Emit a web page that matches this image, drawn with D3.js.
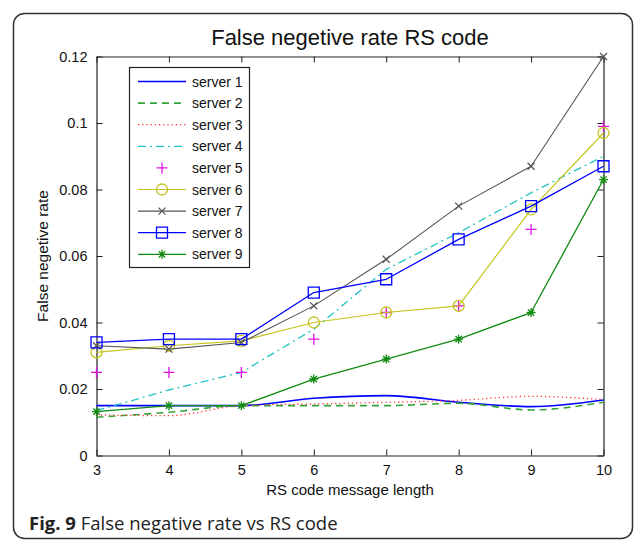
<!DOCTYPE html>
<html>
<head>
<meta charset="utf-8">
<script src="https://cdn.jsdelivr.net/npm/d3@7"></script>
<style>
  html, body { margin: 0; padding: 0; background: #ffffff; }
  svg { display: block; }
</style>
</head>
<body>
<svg id="chart" width="634" height="540"></svg>
<script>
// ---- data ----
const categories = [3, 4, 5, 6, 7, 8, 9, 10];
const seriesNames = ["server 1", "server 2", "server 3", "server 4", "server 5",
                     "server 6", "server 7", "server 8", "server 9"];
const server1 = [0.015, 0.015, 0.015, 0.0172, 0.018, 0.016, 0.0147, 0.0167];
const server2 = [0.0115, 0.013, 0.015, 0.015, 0.015, 0.0157, 0.0137, 0.016];
const server3 = [0.0122, 0.012, 0.015, 0.0155, 0.016, 0.0166, 0.0178, 0.0168];
const server4 = [0.0135, 0.0197, 0.025, 0.038, 0.056, 0.067, 0.079, 0.09];
const server5 = [0.025, 0.025, 0.025, 0.035, 0.043, 0.045, 0.068, 0.099];
const server6 = [0.031, 0.033, 0.0345, 0.040, 0.043, 0.045, 0.074, 0.097];
const server7 = [0.033, 0.032, 0.034, 0.045, 0.059, 0.075, 0.087, 0.12];
const server8 = [0.034, 0.035, 0.035, 0.049, 0.053, 0.065, 0.075, 0.087];
const server9 = [0.0132, 0.015, 0.015, 0.023, 0.029, 0.035, 0.043, 0.083];
const yTicks = [0, 0.02, 0.04, 0.06, 0.08, 0.1, 0.12];
const yTickLabels = ["0", "0.02", "0.04", "0.06", "0.08", "0.1", "0.12"];
const xTicks = [3, 4, 5, 6, 7, 8, 9, 10];
const xTickLabels = ["3", "4", "5", "6", "7", "8", "9", "10"];

const titleText = "False negetive rate RS code";
const xLabelText = "RS code message length";
const yLabelText = "False negetive rate";

// ---- styles ----
const styles = [
  { color: "#0000ff", dash: null,      width: 1.6, line: true,  smooth: true,  marker: null },
  { color: "#36a336", dash: "7,5",     width: 1.6, line: true,  smooth: true,  marker: null },
  { color: "#ff3030", dash: "1.2,3",   width: 1.3, line: true,  smooth: true,  marker: null },
  { color: "#20c4c4", dash: "8,4,2,4", width: 1.3, line: true,  smooth: false, marker: null },
  { color: "#e010e0", dash: null,      width: 1.2, line: false, smooth: false, marker: "plus" },
  { color: "#c4c41c", dash: null,      width: 1.2, line: true,  smooth: false, marker: "circle" },
  { color: "#555555", dash: null,      width: 1.1, line: true,  smooth: false, marker: "cross" },
  { color: "#0000ff", dash: null,      width: 1.3, line: true,  smooth: false, marker: "square" },
  { color: "#108a10", dash: null,      width: 1.3, line: true,  smooth: false, marker: "star" }
];
const allSeries = [server1, server2, server3, server4, server5, server6, server7, server8, server9];

const svg = d3.select("#chart");
const font = "'Liberation Sans', Arial, sans-serif";

// frame
svg.append("rect")
  .attr("x", 13.5).attr("y", 13.5).attr("width", 619).attr("height", 525)
  .attr("rx", 11).attr("fill", "none").attr("stroke", "#333").attr("stroke-width", 1.5);

const L = 96.5, R = 603.5, T = 56.5, B = 455.5;
const x = d3.scaleLinear().domain([3, 10]).range([L, R]);
const y = d3.scaleLinear().domain([0, 0.12]).range([B, T]);

const g = svg.append("g");

// axes box with inward ticks
const tickLen = 6;
const axB = d3.axisBottom(x).tickValues(xTicks).tickFormat((d, i) => xTickLabels[i]).tickSizeInner(-tickLen).tickSizeOuter(0).tickPadding(9);
const axT = d3.axisTop(x).tickValues(xTicks).tickFormat("").tickSizeInner(-tickLen).tickSizeOuter(0);
const axL = d3.axisLeft(y).tickValues(yTicks).tickFormat((d, i) => yTickLabels[i]).tickSizeInner(-tickLen).tickSizeOuter(0).tickPadding(9);
const axR = d3.axisRight(y).tickValues(yTicks).tickFormat("").tickSizeInner(-tickLen).tickSizeOuter(0);

function styleAxis(sel) {
  sel.select(".domain").attr("stroke", "#222").attr("stroke-width", 1.2);
  sel.selectAll(".tick line").attr("stroke", "#222").attr("stroke-width", 1);
  sel.selectAll("text").attr("font-family", font).attr("font-size", 14.5).attr("fill", "#111");
}
g.append("g").attr("transform", `translate(0,${B})`).call(axB).call(styleAxis);
g.append("g").attr("transform", `translate(0,${T})`).call(axT).call(styleAxis);
g.append("g").attr("transform", `translate(${L},0)`).call(axL).call(styleAxis);
g.append("g").attr("transform", `translate(${R},0)`).call(axR).call(styleAxis);

// series
function markerPath(type, s) {
  const h = s / 2;
  switch (type) {
    case "plus": return `M${-h},0H${h}M0,${-h}V${h}`;
    case "cross": return `M${-h},${-h}L${h},${h}M${-h},${h}L${h},${-h}`;
    case "square": return `M${-h},${-h}H${h}V${h}H${-h}Z`;
    case "circle": return d3.symbol(d3.symbolCircle, Math.PI * h * h)();
    case "star": {
      const k = h * 0.7;
      return `M${-h},0H${h}M0,${-h}V${h}M${-k},${-k}L${k},${k}M${-k},${k}L${k},${-k}`;
    }
  }
  return "";
}
const markerSize = { plus: 11, cross: 7, square: 11, circle: 11, star: 9 };

allSeries.forEach((vals, si) => {
  const st = styles[si];
  const pts = categories.map((c, i) => [c, vals[i]]);
  if (st.line) {
    const line = d3.line().x(d => x(d[0])).y(d => y(d[1]))
      .curve(st.smooth ? d3.curveMonotoneX : d3.curveLinear);
    g.append("path").datum(pts).attr("d", line)
      .attr("fill", "none").attr("stroke", st.color).attr("stroke-width", st.width)
      .attr("stroke-dasharray", st.dash).attr("stroke-linejoin", "round");
  }
  if (st.marker) {
    g.selectAll(null).data(pts).enter().append("path")
      .attr("transform", d => `translate(${x(d[0])},${y(d[1])})`)
      .attr("d", markerPath(st.marker, markerSize[st.marker]))
      .attr("fill", "none").attr("stroke", st.color).attr("stroke-width", 1.3);
  }
});

// legend
const lg = svg.append("g");
lg.append("rect").attr("x", 129.5).attr("y", 67.5).attr("width", 120).attr("height", 200)
  .attr("fill", "#fff").attr("stroke", "#222").attr("stroke-width", 1.2);
seriesNames.forEach((name, i) => {
  const st = styles[i];
  const yy = 81.5 + i * 21.6;
  if (st.line) {
    lg.append("line").attr("x1", 138).attr("x2", 186).attr("y1", yy).attr("y2", yy)
      .attr("stroke", st.color).attr("stroke-width", st.width).attr("stroke-dasharray", st.dash);
  }
  if (st.marker) {
    lg.append("path").attr("transform", `translate(162,${yy})`)
      .attr("d", markerPath(st.marker, markerSize[st.marker]))
      .attr("fill", "none").attr("stroke", st.color).attr("stroke-width", 1.3);
  }
  lg.append("text").attr("x", 192).attr("y", yy + 5).text(name)
    .attr("font-family", font).attr("font-size", 14).attr("fill", "#111");
});

// title and labels
svg.append("text").attr("x", (L + R) / 2).attr("y", 45).attr("text-anchor", "middle")
  .attr("font-family", font).attr("font-size", 22).attr("fill", "#111").text(titleText);
svg.append("text").attr("x", (L + R) / 2).attr("y", 495).attr("text-anchor", "middle")
  .attr("font-family", font).attr("font-size", 15).attr("fill", "#111").text(xLabelText);
svg.append("text").attr("transform", `translate(48,${(T + B) / 2}) rotate(-90)`).attr("text-anchor", "middle")
  .attr("font-family", font).attr("font-size", 15.5).attr("fill", "#111").text(yLabelText);

// caption
const cap = svg.append("text").attr("x", 29).attr("y", 529.5)
  .attr("font-family", "'Open Sans', 'Noto Sans', sans-serif").attr("font-size", 18.5).attr("fill", "#222");
cap.append("tspan").attr("font-weight", "bold").text("Fig. 9");
cap.append("tspan").text(" False negative rate vs RS code");
</script>
</body>
</html>
